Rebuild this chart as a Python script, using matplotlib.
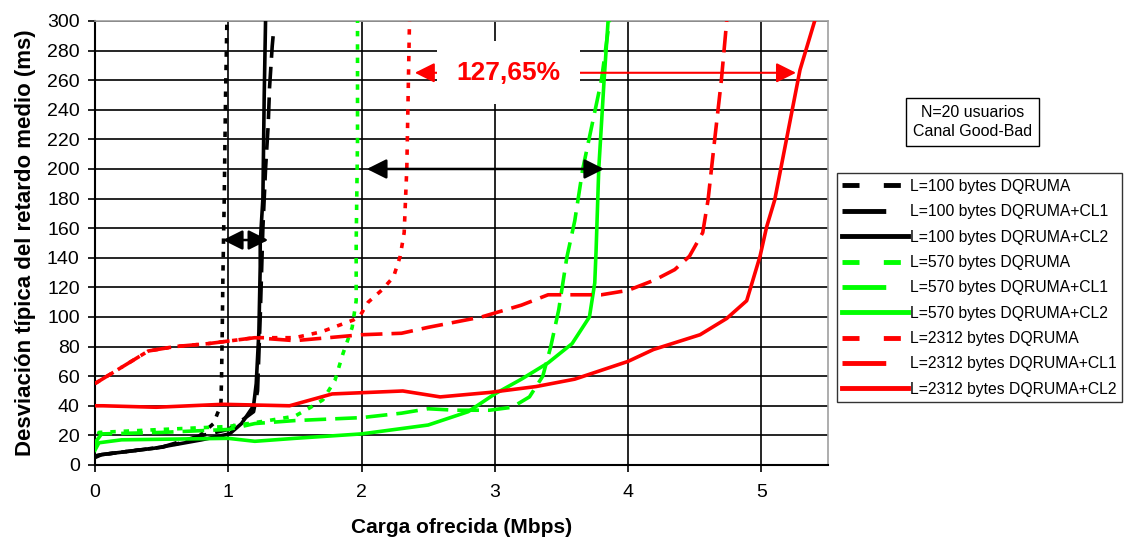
import matplotlib.pyplot as plt
from matplotlib.lines import Line2D

plt.rcParams['font.family'] = ['Liberation Sans', 'DejaVu Sans']

# L=100 bytes
x_100_dq = [0, 0.05, 0.5, 0.75, 0.89, 0.92, 0.945, 0.95, 0.955, 0.96, 0.97, 0.98, 0.99]
y_100_dq = [6, 7, 12, 17, 28, 35, 40, 60, 90, 127, 180, 250, 300]
x_100_cl1 = [0, 0.05, 0.5, 0.76, 1.0, 1.1, 1.19, 1.22, 1.24, 1.26, 1.28, 1.30, 1.31, 1.33, 1.34]
y_100_cl1 = [6, 7, 12, 19, 24, 30, 36, 50, 100, 160, 200, 230, 255, 283, 293]
x_100_cl2 = [0, 0.05, 0.46, 0.8, 1.01, 1.1, 1.19, 1.21, 1.23, 1.24, 1.24, 1.26, 1.27, 1.28]
y_100_cl2 = [5, 7, 11.5, 17, 21, 28, 40, 55, 90, 134, 150, 180, 250, 300]

# L=570 bytes
x_570_dq = [0, 0.03, 0.5, 1.0, 1.3, 1.5, 1.6, 1.71, 1.8, 1.86, 1.93, 1.96, 1.96, 1.97, 1.97]
y_570_dq = [12, 22, 24, 26, 30, 33, 38, 44, 57, 75, 93, 111, 150, 220, 300]
x_570_cl1 = [0, 0.05, 0.5, 1.0, 1.2, 1.5, 2.0, 2.3, 2.5, 2.7, 2.96, 3.13, 3.26, 3.36, 3.42,
             3.48, 3.54, 3.6, 3.66, 3.73, 3.8, 3.86]
y_570_cl1 = [15, 21, 22, 24, 28, 30, 32, 35, 38, 37, 37, 39, 46, 60, 80,
             105, 140, 165, 200, 230, 260, 300]
x_570_cl2 = [0, 0.03, 0.2, 1.0, 1.2, 1.5, 2.0, 2.5, 2.8, 3.0, 3.2, 3.4, 3.58, 3.71, 3.75,
             3.76, 3.78, 3.82, 3.85]
y_570_cl2 = [10, 15, 17, 18, 16, 18, 21, 27, 36, 48, 58, 69, 82, 100, 123,
             145, 200, 260, 300]

# L=2312 bytes
x_2312_dq = [0, 0.2, 0.4, 0.6, 0.85, 1.2, 1.5, 1.7, 1.94, 1.99, 2.05, 2.15, 2.24, 2.29, 2.32,
             2.34, 2.36]
y_2312_dq = [55, 66, 77, 80, 82, 86, 86, 90, 98, 101, 110, 118, 127, 141, 157, 201, 300]
x_2312_cl1 = [0, 0.2, 0.4, 0.6, 0.85, 1.2, 1.5, 1.75, 2.0, 2.3, 2.5, 2.9, 3.2, 3.4, 3.8, 4.0,
              4.2, 4.35, 4.46, 4.56, 4.6, 4.65, 4.7, 4.74]
y_2312_cl1 = [55, 66, 77, 80, 82, 86, 84, 86, 88, 89, 93, 100, 108, 115, 115, 118,
              125, 132, 141, 157, 179, 220, 260, 300]
x_2312_cl2 = [0, 0.06, 0.46, 0.96, 1.46, 1.78, 2.31, 2.59, 2.96, 3.31, 3.6, 4.0, 4.19, 4.54,
              4.74, 4.89, 4.93, 4.99, 5.04, 5.10, 5.29, 5.40]
y_2312_cl2 = [40, 40, 39, 41, 40, 48, 50, 46, 49, 53, 58, 70, 78, 88,
              99, 111, 123, 141, 161, 179, 267, 300]

labels = ['L=100 bytes DQRUMA', 'L=100 bytes DQRUMA+CL1', 'L=100 bytes DQRUMA+CL2',
          'L=570 bytes DQRUMA', 'L=570 bytes DQRUMA+CL1', 'L=570 bytes DQRUMA+CL2',
          'L=2312 bytes DQRUMA', 'L=2312 bytes DQRUMA+CL1', 'L=2312 bytes DQRUMA+CL2']
series = [(x_100_dq, y_100_dq), (x_100_cl1, y_100_cl1), (x_100_cl2, y_100_cl2),
          (x_570_dq, y_570_dq), (x_570_cl1, y_570_cl1), (x_570_cl2, y_570_cl2),
          (x_2312_dq, y_2312_dq), (x_2312_cl1, y_2312_cl1), (x_2312_cl2, y_2312_cl2)]
colors = ['black'] * 3 + ['#00ff00'] * 3 + ['red'] * 3
plot_styles = [(0, (1.5, 2.2)), (0, (6, 2.5)), '-'] * 3
legend_styles = [(0, (3.5, 5)), (0, (9, 5)), '-'] * 3

fig = plt.figure(figsize=(11.25, 5.42), dpi=100)
ax = fig.add_axes([0.0844, 0.1421, 0.6516, 0.8192])

for (xs, ys), c, ls in zip(series, colors, plot_styles):
    ax.plot(xs, ys, color=c, linestyle=ls, linewidth=2.6, zorder=3)

ax.set_xlim(0, 5.5)
ax.set_ylim(0, 300)
ax.set_xticks(range(6))
ax.set_yticks(range(0, 301, 20))
ax.grid(True, color='black', linewidth=1.2, zorder=0)
ax.tick_params(axis='x', length=5, width=1.2, pad=9, labelsize=14)
ax.tick_params(axis='y', length=5, width=1.2, pad=6, labelsize=14)
for s in ['left', 'bottom']:
    ax.spines[s].set_linewidth(1.5)
for s in ['top', 'right']:
    ax.spines[s].set_color('#a0a0a0')
    ax.spines[s].set_linewidth(1.2)

ax.set_xlabel('Carga ofrecida (Mbps)', fontsize=15, fontweight='bold', labelpad=12)
ax.set_ylabel('Desviación típica del retardo medio (ms)', fontsize=16, fontweight='bold',
              labelpad=8)

# arrows
head = '<|-|>,head_length=0.6,head_width=0.3'
ax.annotate('', xy=(0.96, 152), xytext=(1.30, 152),
            arrowprops=dict(arrowstyle=head, color='black', lw=1.8, mutation_scale=20,
                            shrinkA=0, shrinkB=0), zorder=4)
ax.annotate('', xy=(2.04, 200), xytext=(3.82, 200),
            arrowprops=dict(arrowstyle=head, color='black', lw=1.8, mutation_scale=20,
                            shrinkA=0, shrinkB=0), zorder=4)
ax.annotate('', xy=(2.40, 265), xytext=(5.26, 265),
            arrowprops=dict(arrowstyle=head, color='red', lw=1.5, mutation_scale=20,
                            shrinkA=0, shrinkB=0), zorder=4)
ax.text(3.1, 265, '127,65%', color='red', fontsize=19, fontweight='bold',
        ha='center', va='center', zorder=5,
        bbox=dict(facecolor='white', edgecolor='none', pad=14))

fig.text(0.8645, 0.775, 'N=20 usuarios\nCanal Good-Bad', fontsize=11.5, ha='center',
         va='center', linespacing=1.35,
         bbox=dict(facecolor='white', edgecolor='black', linewidth=1, boxstyle='square,pad=0.45'))

handles = [Line2D([], [], color=c, linestyle=ls, linewidth=3.5)
           for c, ls in zip(colors, legend_styles)]
leg = fig.legend(handles, labels, loc='upper left', bbox_to_anchor=(0.744, 0.68),
                 fontsize=11.3, frameon=True, fancybox=False, handlelength=4.2,
                 handletextpad=0.1, labelspacing=0.66, borderpad=0.35, borderaxespad=0)
leg.get_frame().set_edgecolor('black')
leg.get_frame().set_linewidth(1)

fig.savefig('out.png', dpi=100)
